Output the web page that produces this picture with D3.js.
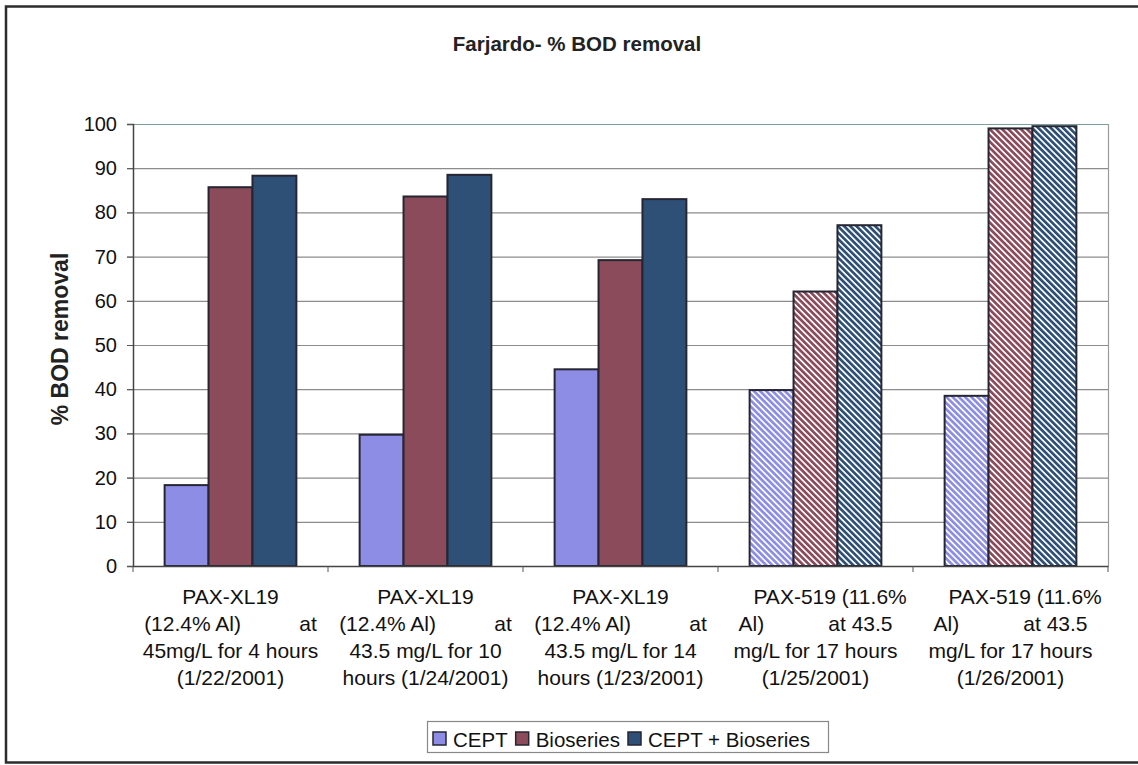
<!DOCTYPE html>
<html><head><meta charset="utf-8">
<script src="https://cdn.jsdelivr.net/npm/d3@7"></script>
<style>
html,body{margin:0;padding:0;background:#fff;}
svg{display:block;font-family:"Liberation Sans",Arial,sans-serif;}
text{white-space:pre;}
</style></head>
<body><svg id="c" width="1138" height="765"></svg>
<script>
// ---- data ----
const chartTitle = "Farjardo- % BOD removal";
const yTitle = "% BOD removal";
const categoryLabels = [
  ["PAX-XL19", "(12.4% Al)          at", "45mg/L for 4 hours", "(1/22/2001)"],
  ["PAX-XL19", "(12.4% Al)          at", "43.5 mg/L for 10", "hours (1/24/2001)"],
  ["PAX-XL19", "(12.4% Al)          at", "43.5 mg/L for 14", "hours (1/23/2001)"],
  ["     PAX-519 (11.6%", "Al)           at 43.5", "mg/L for 17 hours", "(1/25/2001)"],
  ["     PAX-519 (11.6%", "Al)           at 43.5", "mg/L for 17 hours", "(1/26/2001)"]
];
const seriesNames = ["CEPT", "Bioseries", "CEPT + Bioseries"];
const ceptValues = [18.3, 29.7, 44.5, 39.8, 38.5];
const bioseriesValues = [85.7, 83.6, 69.2, 62.1, 99.0];
const ceptBioValues = [88.3, 88.5, 83.0, 77.1, 99.5];
const yTicks = [0, 10, 20, 30, 40, 50, 60, 70, 80, 90, 100];

// ---- style ----
const colors = ["#8d8de6", "#8b4b5b", "#2e5077"];
const hatchedGroups = [3, 4];
const plot = {left: 133, right: 1108, top: 124, bottom: 566};

const svg = d3.select("#c");
const defs = svg.append("defs");
colors.forEach((c, i) => {
  const p = defs.append("pattern").attr("id", "h" + i)
    .attr("patternUnits", "userSpaceOnUse").attr("width", 4.4).attr("height", 10)
    .attr("patternTransform", "rotate(-45)");
  p.append("rect").attr("width", 4.4).attr("height", 10).attr("fill", "#ffffff");
  p.append("rect").attr("width", 2.7).attr("height", 10).attr("fill", c);
});

// outer frame
svg.append("rect").attr("x", 6).attr("y", 6.5).attr("width", 1150).attr("height", 756)
  .attr("fill", "#fff").attr("stroke", "#2b2b2b").attr("stroke-width", 2.5);

const groupIdx = d3.range(categoryLabels.length);
const x0 = d3.scaleBand().domain(groupIdx).range([plot.left, plot.right]).padding(0);
const x1 = d3.scaleBand().domain(d3.range(seriesNames.length)).range([0, x0.bandwidth()])
  .paddingInner(0).paddingOuter(0.72);
const y = d3.scaleLinear().domain([0, 100]).range([plot.bottom, plot.top]);

// gridlines
svg.append("g").selectAll("line").data(yTicks.filter(t => t > 0)).join("line")
  .attr("x1", plot.left - 6).attr("x2", plot.right)
  .attr("y1", d => y(d) + 0.5).attr("y2", d => y(d) + 0.5)
  .attr("stroke", d => d === 100 ? "#7f9c9c" : "#8c8c8c").attr("stroke-width", 1.2);

// right border of plot
svg.append("line").attr("x1", plot.right + 0.5).attr("x2", plot.right + 0.5)
  .attr("y1", plot.top).attr("y2", plot.bottom).attr("stroke", "#9a9a9a").attr("stroke-width", 1.2);

// bars
const allValues = [ceptValues, bioseriesValues, ceptBioValues];
const barData = [];
groupIdx.forEach(g => seriesNames.forEach((s, si) => barData.push({g, si, v: allValues[si][g]})));
svg.append("g").selectAll("rect").data(barData).join("rect")
  .attr("x", d => x0(d.g) + x1(d.si))
  .attr("y", d => y(d.v))
  .attr("width", x1.bandwidth())
  .attr("height", d => y(0) - y(d.v))
  .attr("fill", d => hatchedGroups.includes(d.g) ? `url(#h${d.si})` : colors[d.si])
  .attr("stroke", "#262633").attr("stroke-width", 2);

// y axis
const yAxis = d3.axisLeft(y).tickValues(yTicks).tickSize(6).tickPadding(10).tickFormat(d3.format("d"));
const ya = svg.append("g").attr("transform", `translate(${plot.left},0)`).call(yAxis);
ya.select(".domain").attr("stroke", "#444").attr("stroke-width", 1.5);
ya.selectAll(".tick line").attr("stroke", "#555");
ya.selectAll("text").attr("font-size", 20).attr("fill", "#111")
  .attr("font-family", "'Liberation Sans',Arial,sans-serif");

// x axis
const xAxis = d3.axisBottom(x0).tickSize(0).tickFormat("");
const xa = svg.append("g").attr("transform", `translate(0,${plot.bottom})`).call(xAxis);
xa.select(".domain").attr("stroke", "#444").attr("stroke-width", 1.5);
svg.append("g").selectAll("line").data(d3.range(categoryLabels.length + 1)).join("line")
  .attr("x1", i => plot.left + i * x0.step()).attr("x2", i => plot.left + i * x0.step())
  .attr("y1", plot.bottom).attr("y2", plot.bottom + 6).attr("stroke", "#555");

// category labels
const lab = svg.append("g").selectAll("text").data(groupIdx).join("text")
  .attr("text-anchor", "middle").attr("font-size", 21).attr("fill", "#111");
lab.each(function(g) {
  const t = d3.select(this);
  categoryLabels[g].forEach((line, li) => {
    t.append("tspan").attr("x", x0(g) + x0.bandwidth() / 2).attr("y", 604 + li * 27).text(line);
  });
});

// title
svg.append("text").attr("x", 577).attr("y", 51).attr("text-anchor", "middle")
  .attr("font-size", 20.5).attr("font-weight", "bold").attr("fill", "#222").text(chartTitle);
svg.append("text").attr("transform", "translate(68,339) rotate(-90)").attr("text-anchor", "middle")
  .attr("font-size", 23).attr("font-weight", "bold").attr("fill", "#222").text(yTitle);

// legend
const lg = svg.append("g");
lg.append("rect").attr("x", 427.5).attr("y", 721.5).attr("width", 401).attr("height", 31)
  .attr("fill", "#fff").attr("stroke", "#888").attr("stroke-width", 1.2);
let lx = 433;
seriesNames.forEach((s, i) => {
  lg.append("rect").attr("x", lx).attr("y", 732).attr("width", 13).attr("height", 13)
    .attr("fill", colors[i]).attr("stroke", "#262633").attr("stroke-width", 1.5);
  const tt = lg.append("text").attr("x", lx + 20).attr("y", 747).attr("font-size", 20.5)
    .attr("fill", "#111").text(s);
  lx += 20 + tt.node().getComputedTextLength() + 8;
});
</script></body></html>
